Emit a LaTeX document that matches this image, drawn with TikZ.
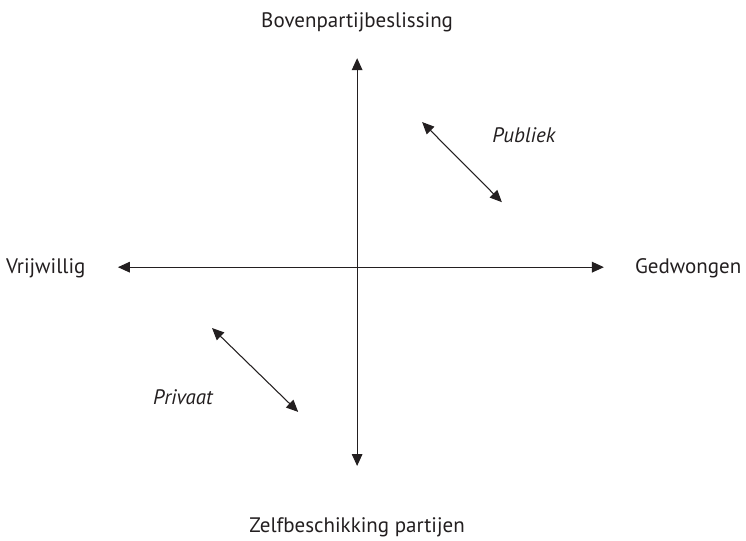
\documentclass[tikz,border=0pt]{standalone}
\usepackage{fontspec}
\setmainfont{PT Sans}
\usetikzlibrary{arrows.meta}
\definecolor{ink}{HTML}{231F20}

\begin{document}
\begin{tikzpicture}[
     axis/.style={draw=ink,line width=0.8pt,{Triangle[length=9pt,width=8pt]}-{Triangle[length=9pt,width=8pt]}},
     lbl/.style={text=ink,font=\fontsize{15.8}{19}\selectfont},
     tag/.style={text=ink,font=\fontsize{15.8}{19}\selectfont\itshape}
   ]
   \path[use as bounding box] (0,0) rectangle (19.74,14.29);
   % Axes.
   \coordinate (west) at (3.12,7.22);
   \coordinate (east) at (15.98,7.22);
   \coordinate (north) at (9.45,12.75);
   \coordinate (south) at (9.45,1.96);
   \draw[axis] (west) -- (east);
   \draw[axis] (south) -- (north);
   \node[lbl] (top) at (9.45,13.71) {Bovenpartijbeslissing};
   \node[lbl] (bottom) at (9.45,0.34) {Zelfbeschikking partijen};
   \node[lbl] (left) at (1.21,7.20) {Vrijwillig};
   \node[lbl] (right) at (18.21,7.20) {Gedwongen};
   % Quadrants.
   \coordinate (pub1) at (11.17,11.06);
   \coordinate (pub2) at (13.28,8.94);
   \draw[axis] (pub1) -- (pub2);
   \node[tag] (publiek) at (13.86,10.72) {Publiek};
   \coordinate (pri1) at (5.61,5.61);
   \coordinate (pri2) at (7.89,3.39);
   \draw[axis] (pri1) -- (pri2);
   \node[tag] (privaat) at (4.84,3.78) {Privaat};
\end{tikzpicture}
\end{document}
